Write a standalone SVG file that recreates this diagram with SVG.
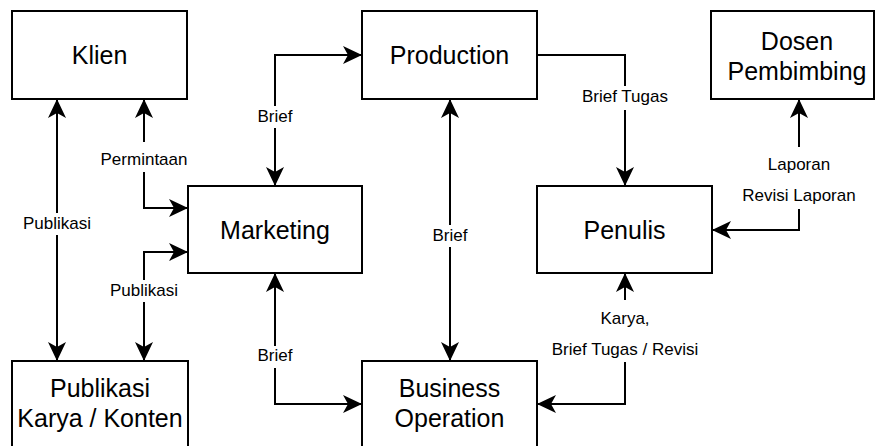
<svg xmlns="http://www.w3.org/2000/svg" width="876" height="446" viewBox="0 0 876 446">
<style>
.node{fill:#fff;stroke:#000;stroke-width:2}
.nt{font-family:"Liberation Sans",Arial,Helvetica,sans-serif;font-size:25px;fill:#000;text-anchor:middle}
.edge{fill:none;stroke:#000;stroke-width:2}
.lb{font-family:"Liberation Sans",Arial,Helvetica,sans-serif;font-size:17px;fill:#000;text-anchor:middle}
.bg{fill:#fff;stroke:none}
</style>
<defs>
<marker id="arr" viewBox="-20 -10 22 20" refX="0" refY="0" markerWidth="22" markerHeight="20" markerUnits="userSpaceOnUse" orient="auto-start-reverse">
<path d="M0,0 L-19,-9 L-14,0 L-19,9 Z" fill="#000"/>
</marker>
</defs>
<rect width="876" height="446" fill="#fff"/>
<g id="connectors">
<path class="edge" d="M57,99 V361" marker-start="url(#arr)" marker-end="url(#arr)"/>
<path class="edge" d="M144,99 V208 H188" marker-start="url(#arr)" marker-end="url(#arr)"/>
<path class="edge" d="M188,252 H144 V361" marker-start="url(#arr)" marker-end="url(#arr)"/>
<path class="edge" d="M275,186 V55 H362" marker-start="url(#arr)" marker-end="url(#arr)"/>
<path class="edge" d="M275,273 V404 H362" marker-start="url(#arr)" marker-end="url(#arr)"/>
<path class="edge" d="M450,99 V361" marker-start="url(#arr)" marker-end="url(#arr)"/>
<path class="edge" d="M537,55 H625 V186" marker-end="url(#arr)"/>
<path class="edge" d="M712,230 H799 V99" marker-start="url(#arr)" marker-end="url(#arr)"/>
<path class="edge" d="M537,404 H625 V273" marker-start="url(#arr)" marker-end="url(#arr)"/>
<g id="labels">
<rect class="bg" x="18" y="213" width="78" height="22"/>
<text class="lb" x="57" y="229">Publikasi</text>
<rect class="bg" x="98" y="142" width="92" height="30"/>
<text class="lb" x="144" y="165">Permintaan</text>
<rect class="bg" x="105" y="280" width="78" height="22"/>
<text class="lb" x="144" y="296">Publikasi</text>
<rect class="bg" x="253" y="106" width="44" height="22"/>
<text class="lb" x="275" y="122">Brief</text>
<rect class="bg" x="253" y="346" width="44" height="22"/>
<text class="lb" x="275" y="361">Brief</text>
<rect class="bg" x="428" y="225" width="44" height="22"/>
<text class="lb" x="450" y="241">Brief</text>
<rect class="bg" x="578" y="86" width="94" height="24"/>
<text class="lb" x="625" y="102">Brief Tugas</text>
<rect class="bg" x="739" y="147" width="122" height="62"/>
<text class="lb" x="799" y="170">Laporan</text>
<text class="lb" x="799" y="201">Revisi Laporan</text>
<rect class="bg" x="546" y="300" width="158" height="62"/>
<text class="lb" x="625" y="324">Karya,</text>
<text class="lb" x="625" y="355">Brief Tugas / Revisi</text>
</g>
</g>
<g id="klien">
<rect class="node" x="12" y="11" width="175" height="88"/>
<text class="nt" x="99.5" y="64">Klien</text>
</g>
<g id="production">
<rect class="node" x="362" y="11" width="175" height="88"/>
<text class="nt" x="449.5" y="64">Production</text>
</g>
<g id="dosen">
<rect class="node" x="711" y="11" width="163" height="88"/>
<text class="nt" x="797" y="50">Dosen</text>
<text class="nt" x="797" y="80">Pembimbing</text>
</g>
<g id="marketing">
<rect class="node" x="188" y="186" width="174" height="87"/>
<text class="nt" x="275" y="239">Marketing</text>
</g>
<g id="penulis">
<rect class="node" x="537" y="186" width="175" height="87"/>
<text class="nt" x="624.5" y="239">Penulis</text>
</g>
<g id="publikasi">
<rect class="node" x="12" y="361" width="176" height="88"/>
<text class="nt" x="100" y="397">Publikasi</text>
<text class="nt" x="100" y="427">Karya / Konten</text>
</g>
<g id="business">
<rect class="node" x="362" y="361" width="175" height="88"/>
<text class="nt" x="449.5" y="397">Business</text>
<text class="nt" x="449.5" y="427">Operation</text>
</g>
</svg>
